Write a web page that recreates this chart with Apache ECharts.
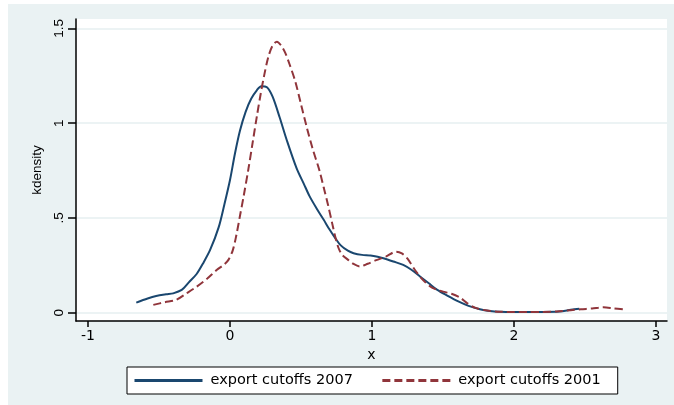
<!DOCTYPE html>
<html>
<head>
<meta charset="utf-8">
<script src="https://cdn.jsdelivr.net/npm/echarts@6/dist/echarts.min.js"></script>
<style>
  html, body { margin: 0; padding: 0; background: #ffffff; }
  #chart { width: 674px; height: 405px; }
</style>
</head>
<body>
<div id="chart"></div>
<script>
// Kernel density estimates of export cutoffs, 2007 vs 2001
const seriesNames = ['export cutoffs 2007', 'export cutoffs 2001'];

const density2007 = [
  [-0.66, 0.053], [-0.58, 0.075], [-0.52, 0.088], [-0.45, 0.097], [-0.40, 0.102],
  [-0.34, 0.12], [-0.29, 0.16], [-0.235, 0.204], [-0.19, 0.26], [-0.14, 0.331],
  [-0.08, 0.45], [-0.04, 0.57], [0.0, 0.70], [0.035, 0.84], [0.07, 0.96],
  [0.11, 1.06], [0.15, 1.13], [0.19, 1.175], [0.22, 1.195], [0.26, 1.19],
  [0.30, 1.14], [0.35, 1.03], [0.40, 0.91], [0.47, 0.76], [0.52, 0.68],
  [0.56, 0.615], [0.61, 0.55], [0.66, 0.49], [0.70, 0.44], [0.74, 0.395],
  [0.78, 0.355], [0.83, 0.327], [0.87, 0.314], [0.93, 0.305], [0.99, 0.302],
  [1.04, 0.295], [1.08, 0.287], [1.15, 0.27], [1.22, 0.252], [1.28, 0.225],
  [1.34, 0.19], [1.40, 0.155], [1.46, 0.12], [1.53, 0.09], [1.60, 0.062],
  [1.68, 0.036], [1.76, 0.018], [1.83, 0.009], [1.90, 0.005], [2.0, 0.004],
  [2.1, 0.004], [2.2, 0.004], [2.32, 0.006], [2.40, 0.015], [2.46, 0.021]
];

const density2001 = [
  [-0.54, 0.041], [-0.46, 0.055], [-0.38, 0.067], [-0.31, 0.10], [-0.235, 0.137],
  [-0.16, 0.18], [-0.094, 0.225], [-0.04, 0.255], [-0.01, 0.28], [0.02, 0.33],
  [0.045, 0.41], [0.07, 0.51], [0.095, 0.61], [0.13, 0.76], [0.16, 0.90],
  [0.19, 1.04], [0.215, 1.15], [0.24, 1.25], [0.27, 1.35], [0.30, 1.41],
  [0.33, 1.43], [0.36, 1.41], [0.39, 1.37], [0.42, 1.31], [0.46, 1.22],
  [0.50, 1.10], [0.54, 0.98], [0.58, 0.87], [0.63, 0.75], [0.66, 0.66],
  [0.69, 0.57], [0.72, 0.47], [0.745, 0.39], [0.765, 0.34], [0.79, 0.305],
  [0.83, 0.28], [0.87, 0.257], [0.915, 0.244], [0.97, 0.258], [1.03, 0.277],
  [1.10, 0.297], [1.17, 0.322], [1.21, 0.313], [1.25, 0.285], [1.30, 0.228],
  [1.35, 0.18], [1.41, 0.138], [1.46, 0.12], [1.50, 0.111], [1.56, 0.10],
  [1.62, 0.08], [1.67, 0.05], [1.73, 0.025], [1.81, 0.011], [1.90, 0.005],
  [2.0, 0.004], [2.1, 0.004], [2.2, 0.004], [2.3, 0.006], [2.4, 0.013],
  [2.47, 0.018], [2.55, 0.022], [2.63, 0.028], [2.70, 0.023], [2.77, 0.018]
];

const xTicks = [-1, 0, 1, 2, 3];
const xTickLabels = ['-1', '0', '1', '2', '3'];
const yTicks = [0, 0.5, 1, 1.5];
const yTickLabels = ['0', '.5', '1', '1.5'];

const labelFor = (ticks, labels) => v => {
  const i = ticks.findIndex(t => Math.abs(t - v) < 1e-9);
  return i >= 0 ? labels[i] : '';
};

const chart = echarts.init(document.getElementById('chart'), null, { renderer: 'canvas' });

chart.setOption({
  backgroundColor: '#ffffff',
  animation: false,
  graphic: [{
    type: 'rect',
    z: -10,
    silent: true,
    shape: { x: 8, y: 4, width: 666, height: 401 },
    style: { fill: '#eaf2f3' }
  }],
  grid: {
    left: 76, right: 7, top: 19, bottom: 84,
    show: true, backgroundColor: '#ffffff', borderWidth: 0
  },
  legend: {
    left: 127, top: 367,
    orient: 'horizontal',
    itemWidth: 68, itemHeight: 14, itemGap: 28,
    padding: [6, 17, 6, 6],
    backgroundColor: '#ffffff',
    borderColor: '#000000', borderWidth: 1, borderRadius: 0,
    itemStyle: { opacity: 0 },
    lineStyle: { width: 3 },
    textStyle: { fontFamily: 'DejaVu Sans', fontSize: 14.5, color: '#000', padding: [0, 0, 0, 3] },
    data: seriesNames
  },
  xAxis: {
    type: 'value',
    min: -1.0845, max: 3.0775,
    name: 'x',
    nameLocation: 'middle',
    nameGap: 22,
    nameTextStyle: { fontFamily: 'DejaVu Sans', fontSize: 14, color: '#000' },
    axisLine: { show: true, onZero: false, lineStyle: { color: '#000', width: 1.5 } },
    axisTick: { show: true, inside: false, length: 6, customValues: xTicks, lineStyle: { color: '#000', width: 1.5 } },
    axisLabel: {
      customValues: xTicks, margin: 8,
      fontFamily: 'DejaVu Sans', fontSize: 14, color: '#000',
      formatter: labelFor(xTicks, xTickLabels)
    },
    splitLine: { show: false }
  },
  yAxis: {
    type: 'value',
    min: -0.044, max: 1.55,
    name: 'kdensity',
    nameLocation: 'middle',
    nameRotate: 90,
    nameGap: 31,
    nameTextStyle: { fontFamily: 'Liberation Sans', fontSize: 13.5, color: '#000' },
    axisLine: { show: true, onZero: false, lineStyle: { color: '#000', width: 1.5 } },
    axisTick: { show: true, inside: false, length: 8, customValues: yTicks, lineStyle: { color: '#000', width: 1.5 } },
    axisLabel: {
      customValues: yTicks, rotate: 90, margin: 10,
      fontFamily: 'Liberation Sans', fontSize: 13.5, color: '#000',
      formatter: labelFor(yTicks, yTickLabels)
    },
    splitLine: { show: true, lineStyle: { color: '#e6eff1', width: 1.5 } }
  },
  series: [
    {
      name: seriesNames[0],
      type: 'line',
      data: density2007,
      smooth: 0.3,
      symbol: 'none',
      lineStyle: { color: '#1a476f', width: 2 },
      itemStyle: { color: '#1a476f' }
    },
    {
      name: seriesNames[1],
      type: 'line',
      data: density2001,
      smooth: 0.3,
      symbol: 'none',
      lineStyle: { color: '#90353b', width: 2, type: [8, 4] },
      itemStyle: { color: '#90353b' }
    }
  ]
});
</script>
</body>
</html>
